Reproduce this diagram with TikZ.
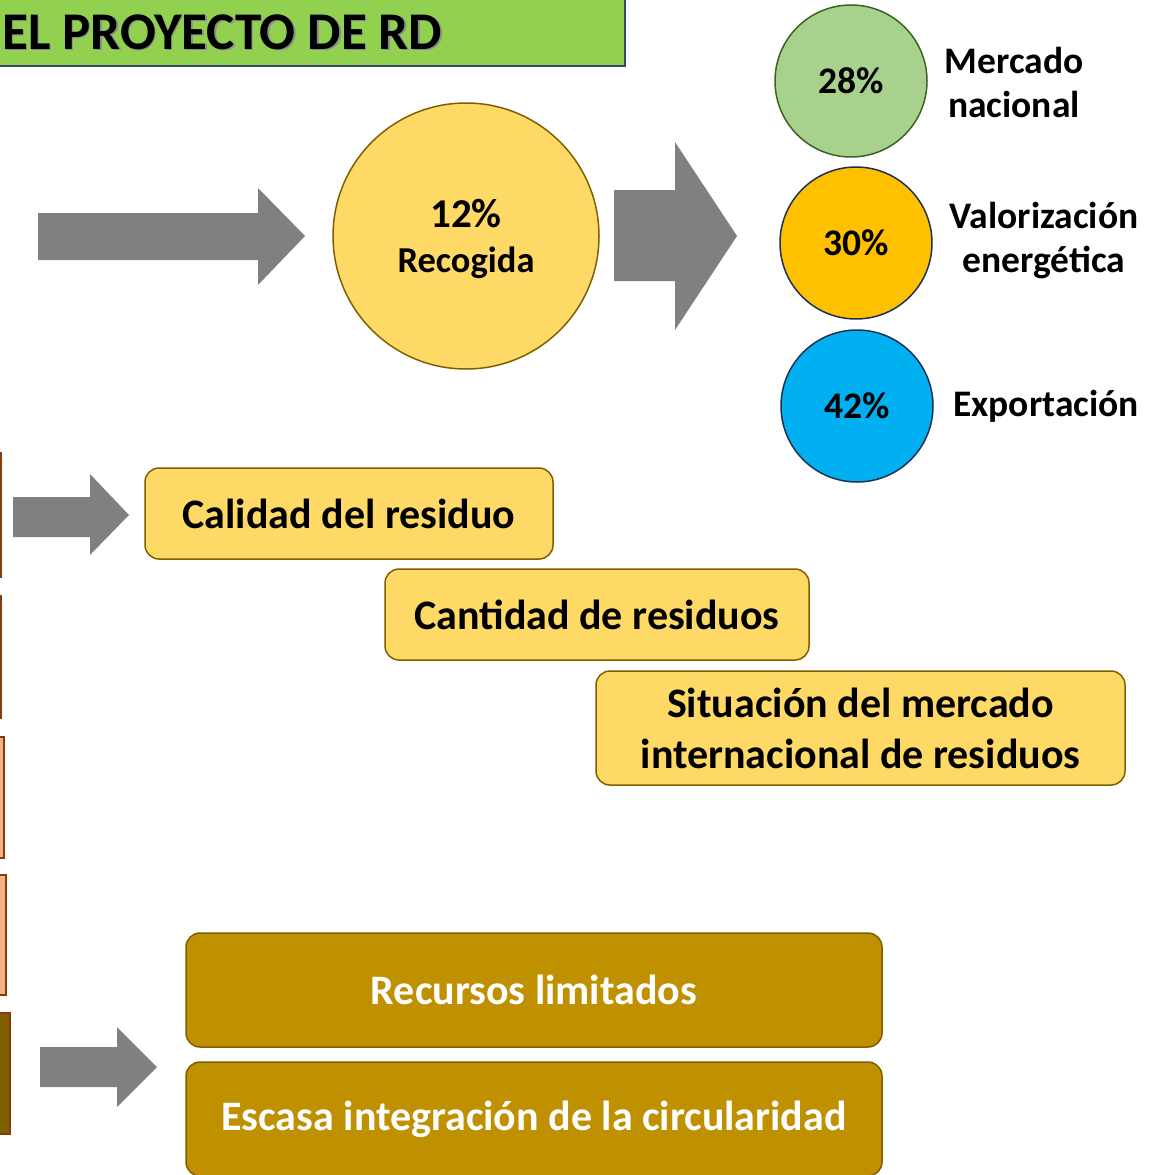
\documentclass[tikz,border=0pt]{standalone}
\usepackage{fontspec}
\setmainfont{Carlito}
\definecolor{hdrgreen}{HTML}{92D050}
\definecolor{hdrborder}{HTML}{2F4A6A}
\definecolor{arrowgray}{HTML}{808080}
\definecolor{goldfill}{HTML}{FFD966}
\definecolor{goldline}{HTML}{7F6000}
\definecolor{darkgold}{HTML}{BF9000}
\definecolor{greenfill}{HTML}{A9D18E}
\definecolor{greenline}{HTML}{3B6323}
\definecolor{orangefill}{HTML}{FFC000}
\definecolor{bluefill}{HTML}{00B0F0}
\definecolor{navyline}{HTML}{1F3055}
\definecolor{brownline}{HTML}{843C0C}
\definecolor{peach}{HTML}{F4B183}
\definecolor{olive}{HTML}{7F6000}
\tikzset{
  blockarrow/.style={fill=arrowgray, draw=none},
  pct/.style={circle, inner sep=0pt, minimum size=152pt, line width=1.5pt, font=\bfseries\fontsize{37.5}{40}\selectfont},
  lbl/.style={align=center, inner sep=0pt, font=\bfseries\fontsize{37.5}{44}\selectfont},
  yellowbox/.style={draw=goldline, fill=goldfill, line width=1.5pt, rounded corners=14pt, align=center, inner sep=0pt, font=\bfseries\fontsize{42}{51}\selectfont},
  darkbox/.style={draw=goldline, fill=darkgold, line width=1.5pt, rounded corners=14pt, align=center, inner sep=0pt, text=white, font=\bfseries\fontsize{42}{51}\selectfont},
  sliver/.style={draw=brownline, line width=1.5pt}
}
\begin{document}
\begin{tikzpicture}[x=1pt,y=-1pt]
\useasboundingbox (0,0) rectangle (1170,1175);
\clip (0,0) rectangle (1170,1175);
% header
\draw[fill=hdrgreen, draw=hdrborder, line width=2pt] (-10,-10) rectangle (625,66);
\node[anchor=base west, inner sep=0pt, text=black!45, font=\bfseries\fontsize{53}{58}\selectfont] at (3.5,50.5) {EL PROYECTO DE RD};
\node (hdr) [anchor=base west, inner sep=0pt, font=\bfseries\fontsize{53}{58}\selectfont] at (2,49) {EL PROYECTO DE RD};
% left slivers
\draw[sliver, fill=peach] (-10,453) rectangle (1,577);
\draw[sliver, fill=peach] (-10,596) rectangle (1,718);
\draw[sliver, fill=peach] (-10,737) rectangle (4,858);
\draw[sliver, fill=peach] (-10,875) rectangle (6,995);
\draw[sliver, fill=olive] (-10,1013) rectangle (10,1134);
% top flow
\fill[blockarrow] (38,213) -- (258,213) -- (258,188) -- (305,236) -- (258,285) -- (258,260) -- (38,260) -- cycle;
\node (rec) [circle, inner sep=0pt, minimum size=266pt, draw=goldline, fill=goldfill, line width=1.5pt, align=center] at (466,236) {};
\node[font=\bfseries\fontsize{41}{44}\selectfont, inner sep=0pt] at (466,214) {12\%};
\node[font=\bfseries\fontsize{36.5}{40}\selectfont, inner sep=0pt] at (466,263) {Recogida};
\fill[blockarrow] (614,190) -- (675,190) -- (675,142) -- (737,236) -- (675,330) -- (675,281) -- (614,281) -- cycle;
\node (c1) [pct, draw=greenline, fill=greenfill] at (851,81) {28\%};
\node (c2) [pct, draw=navyline, fill=orangefill] at (856,243) {30\%};
\node (c3) [pct, draw=navyline, fill=bluefill] at (857,406) {42\%};
\node (l1) [lbl] at (1014,82) {Mercado\\nacional};
\node (l2) [lbl] at (1044,241) {Valorización\\energética};
\node (l3) [lbl] at (1046,406) {Exportación};
% factor boxes
\fill[blockarrow] (13,497) -- (90,497) -- (90,474) -- (129,515) -- (90,555) -- (90,537) -- (13,537) -- cycle;
\node (b1) [yellowbox, minimum width=408pt, minimum height=91pt] at (349,513.5) {Calidad del residuo};
\node (b2) [yellowbox, minimum width=424pt, minimum height=91pt] at (597,614.5) {Cantidad de residuos};
\node (b3) [yellowbox, minimum width=529pt, minimum height=114pt] at (860.5,728) {Situación del mercado\\internacional de residuos};
\fill[blockarrow] (40,1047) -- (117,1047) -- (117,1027) -- (157,1067) -- (117,1107) -- (117,1087) -- (40,1087) -- cycle;
\node (b4) [darkbox, minimum width=696pt, minimum height=114pt] at (534,990) {Recursos limitados};
\node (b5) [darkbox, minimum width=696pt, minimum height=114pt] at (534,1119) {Escasa integración de la circularidad};
\end{tikzpicture}
\end{document}
